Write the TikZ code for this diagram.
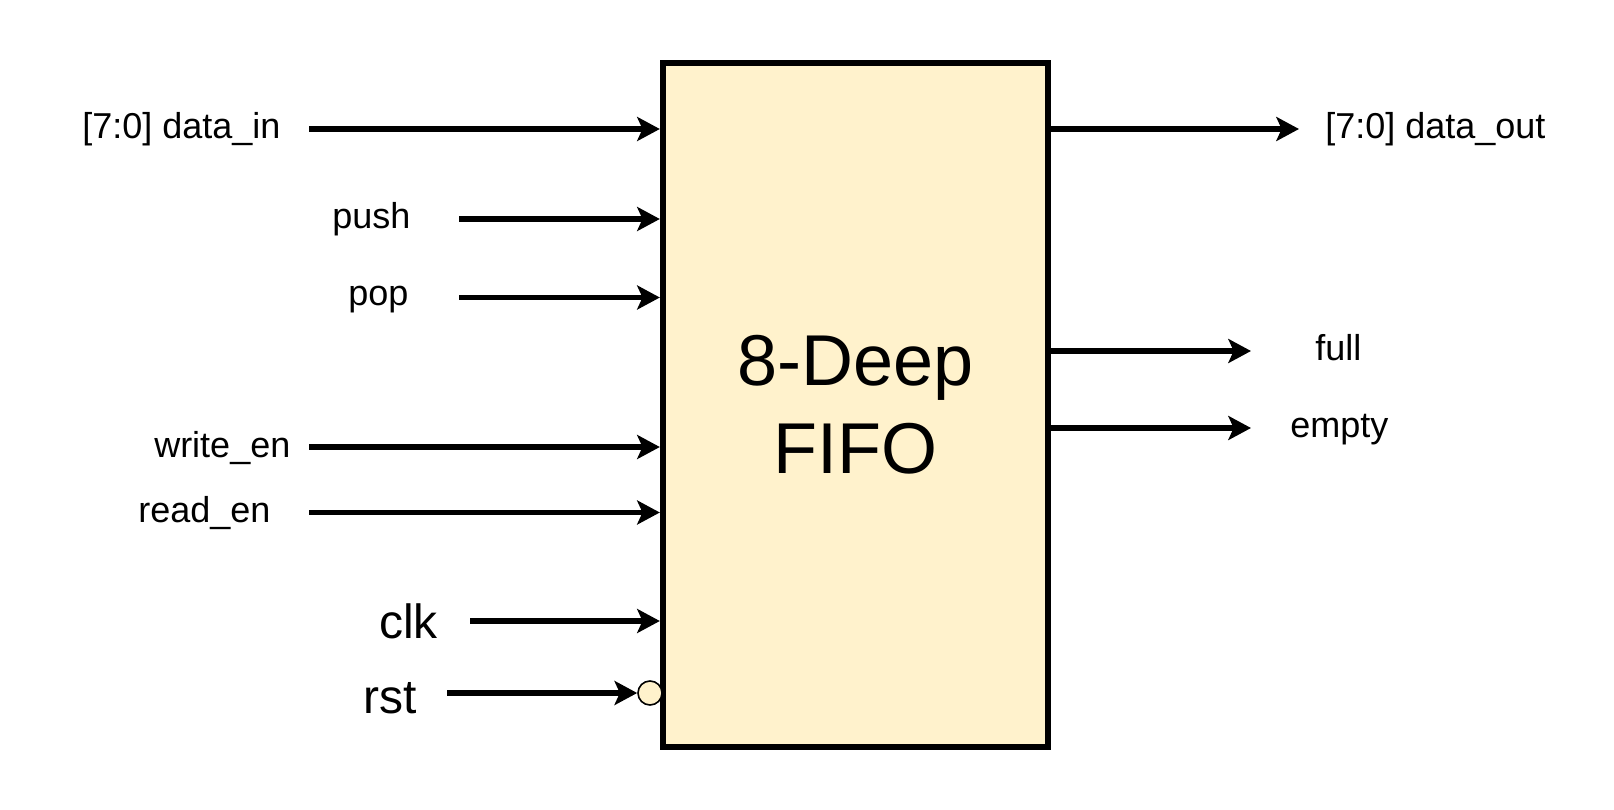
\documentclass[tikz,border=0pt]{standalone}
\usepackage{fontspec}
\setmainfont{Liberation Sans}
\usetikzlibrary{arrows.meta}
\definecolor{boxfill}{HTML}{FFF2CC}
\tikzset{
  sig/.style={line width=4pt, -{Stealth[length=17pt,width=18pt,inset=4pt]}},
  lbl/.style={inner sep=0pt, anchor=west, font=\fontsize{27}{32}\selectfont},
  biglbl/.style={inner sep=0pt, anchor=west, font=\fontsize{36}{42}\selectfont},
}
\begin{document}
\begin{tikzpicture}[x=0.75pt,y=-0.75pt]
\useasboundingbox (0,0) rectangle (1614,810);
\node[draw, line width=4.5pt, fill=boxfill, inner sep=0pt, minimum width=289pt, minimum height=513pt,
      align=center, font=\fontsize{54}{66}\selectfont] (fifo) at (855.5,405) {8-Deep\\FIFO};
% input labels
\node[lbl] (ldin) at (82,129) {[7:0] data\_in};
\node[lbl] (lpush) at (332,219) {push};
\node[lbl] (lpop) at (348,300) {pop};
\node[lbl] (lwen) at (154,448) {write\_en};
\node[lbl] (lren) at (138,513) {read\_en};
\node[biglbl] (lclk) at (379,621) {clk};
\node[biglbl] (lrst) at (363,698) {rst};
% output labels
\node[lbl] (ldout) at (1325,129) {[7:0] data\_out};
\node[lbl] (lfull) at (1315,348) {full};
\node[lbl] (lempty) at (1290,430) {empty};
% start points
\coordinate (sdin) at (309,129);
\coordinate (spush) at (459,219);
\coordinate (spop) at (459,297.5);
\coordinate (swen) at (309,447);
\coordinate (sren) at (309,512.5);
\coordinate (sclk) at (470,621);
\coordinate (srst) at (447,693);
% end points of outputs
\coordinate (edout) at (1299,129);
\coordinate (efull) at (1251,351);
\coordinate (eempty) at (1251,428);
% reset bubble
\node[circle, draw, line width=1.2pt, fill=boxfill, inner sep=0pt, minimum size=18pt] (bub) at (650,693) {};
% inputs
\draw[sig] (sdin) -- (sdin -| fifo.west);
\draw[sig] (spush) -- (spush -| fifo.west);
\draw[sig] (spop) -- (spop -| fifo.west);
\draw[sig] (swen) -- (swen -| fifo.west);
\draw[sig] (sren) -- (sren -| fifo.west);
\draw[sig] (sclk) -- (sclk -| fifo.west);
\draw[sig] (srst) -- (bub.west);
% outputs
\draw[sig] (edout -| fifo.east) -- (edout);
\draw[sig] (efull -| fifo.east) -- (efull);
\draw[sig] (eempty -| fifo.east) -- (eempty);
\end{tikzpicture}
\end{document}
